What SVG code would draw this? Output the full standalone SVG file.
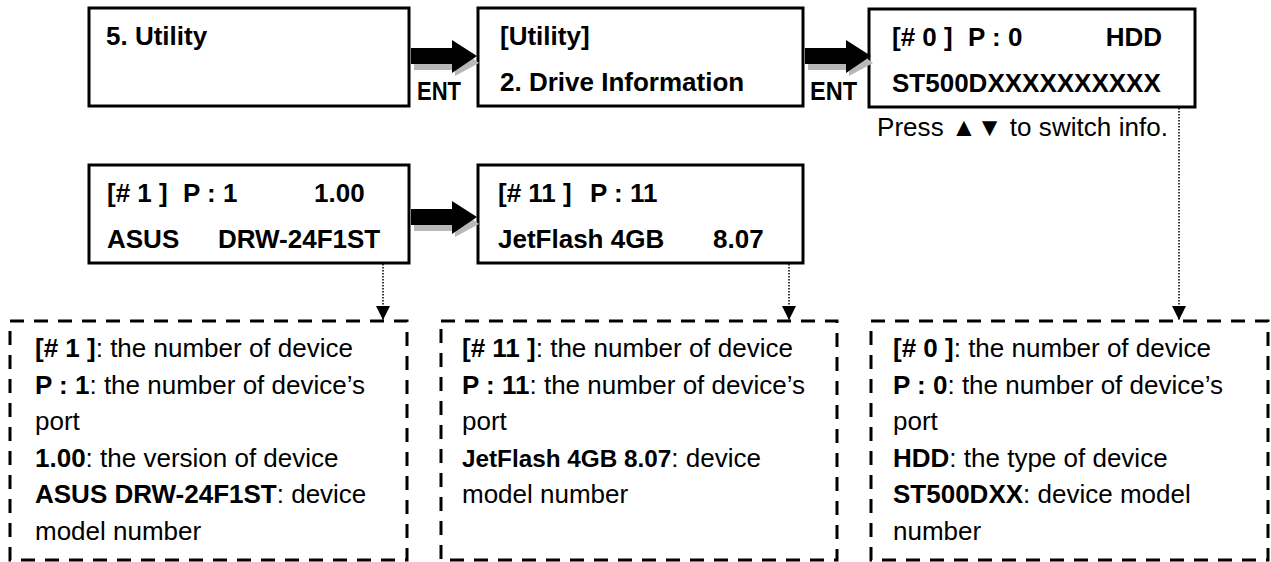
<svg xmlns="http://www.w3.org/2000/svg" width="1271" height="562" viewBox="0 0 1271 562">
<style>
  .box{fill:#fff;stroke:#000;stroke-width:3}
  .dbox{fill:none;stroke:#000;stroke-width:3;stroke-dasharray:14 10}
  .lcd{font-family:"Liberation Sans",Arial,sans-serif;font-weight:bold;font-size:26px;fill:#000}
  .desc{font-family:"Liberation Sans",Arial,sans-serif;font-size:26px;fill:#000}
  .b{font-weight:bold}
  .ent{font-family:"Liberation Sans",Arial,sans-serif;font-weight:bold;font-size:25px;fill:#000}
  .dot{fill:none;stroke:#000;stroke-width:1.5;stroke-dasharray:1.5 1.5}
  .arw{fill:#000}
  .shd{fill:#b8b8b8}
</style>
<defs>
  <marker id="tri" markerWidth="14" markerHeight="14" refX="14" refY="7" orient="auto" markerUnits="userSpaceOnUse">
    <path d="M0,0 L14,7 L0,14 Z" fill="#000"/>
  </marker>
  <g id="bigarrow">
    <path class="shd" d="M3,-3 L44,-3 L44,-11 L68,7 L44,20 L44,14 L3,14 Z"/>
    <path class="arw" d="M0,-8 L41,-8 L41,-16 L66,0 L41,17 L41,8 L0,8 Z"/>
  </g>
</defs>

<g id="node-utility">
  <rect class="box" x="89" y="8" width="320" height="98"/>
  <text class="lcd" x="106" y="45">5. Utility</text>
</g>

<g id="node-drive-info">
  <rect class="box" x="478" y="8" width="325" height="98"/>
  <text class="lcd" x="500" y="45">[Utility]</text>
  <text class="lcd" x="500" y="91">2. Drive Information</text>
</g>

<g id="node-dev0">
  <rect class="box" x="869" y="9" width="326" height="98"/>
  <text class="lcd" x="892" y="46">[# 0 ]</text>
  <text class="lcd" x="968" y="46">P : 0</text>
  <text class="lcd" x="1162" y="46" text-anchor="end">HDD</text>
  <text class="lcd" x="892" y="92">ST500DXXXXXXXXXX</text>
  <text class="desc" x="877" y="136" font-size="25" textLength="291" lengthAdjust="spacing">Press ▲▼ to switch info.</text>
</g>

<g id="node-dev1">
  <rect class="box" x="89" y="165" width="320" height="98"/>
  <text class="lcd" x="107" y="202">[# 1 ]</text>
  <text class="lcd" x="183" y="202">P : 1</text>
  <text class="lcd" x="314" y="202">1.00</text>
  <text class="lcd" x="107" y="248">ASUS</text>
  <text class="lcd" x="218" y="248">DRW-24F1ST</text>
</g>

<g id="node-dev11">
  <rect class="box" x="478" y="165" width="325" height="98"/>
  <text class="lcd" x="498" y="202">[# 11 ]</text>
  <text class="lcd" x="590" y="202">P : 11</text>
  <text class="lcd" x="498" y="248">JetFlash 4GB</text>
  <text class="lcd" x="713" y="248">8.07</text>
</g>

<g id="note-dev1">
  <rect class="dbox" x="10" y="321" width="397" height="239"/>
  <text class="desc" x="35" y="357"><tspan class="b">[# 1 ]</tspan>: the number of device</text>
  <text class="desc" x="35" y="394"><tspan class="b">P : 1</tspan>: the number of device’s</text>
  <text class="desc" x="35" y="430">port</text>
  <text class="desc" x="35" y="467"><tspan class="b">1.00</tspan>: the version of device</text>
  <text class="desc" x="35" y="503"><tspan class="b">ASUS DRW-24F1ST</tspan>: device</text>
  <text class="desc" x="35" y="540">model number</text>
</g>

<g id="note-dev11">
  <rect class="dbox" x="441" y="321" width="396" height="239"/>
  <text class="desc" x="462" y="357"><tspan class="b">[# 11 ]</tspan>: the number of device</text>
  <text class="desc" x="462" y="394"><tspan class="b">P : 11</tspan>: the number of device’s</text>
  <text class="desc" x="462" y="430">port</text>
  <text class="desc" x="462" y="467"><tspan class="b" font-size="24.3">JetFlash 4GB 8.07</tspan>: device</text>
  <text class="desc" x="462" y="503">model number</text>
</g>

<g id="note-dev0">
  <rect class="dbox" x="871" y="321" width="397" height="239"/>
  <text class="desc" x="893" y="357"><tspan class="b">[# 0 ]</tspan>: the number of device</text>
  <text class="desc" x="893" y="394"><tspan class="b">P : 0</tspan>: the number of device’s</text>
  <text class="desc" x="893" y="430">port</text>
  <text class="desc" x="893" y="467"><tspan class="b">HDD</tspan>: the type of device</text>
  <text class="desc" x="893" y="503"><tspan class="b">ST500DXX</tspan>: device model</text>
  <text class="desc" x="893" y="540">number</text>
</g>

<g id="connectors">
  <use href="#bigarrow" x="411" y="56"/>
  <text class="ent" x="417" y="100" textLength="44" lengthAdjust="spacingAndGlyphs">ENT</text>
  <use href="#bigarrow" x="805" y="56"/>
  <text class="ent" x="810" y="100" textLength="47" lengthAdjust="spacingAndGlyphs">ENT</text>
  <use href="#bigarrow" x="411" y="217"/>
  <path class="dot" d="M383,264 L383,320" marker-end="url(#tri)"/>
  <path class="dot" d="M789,264 L789,320" marker-end="url(#tri)"/>
  <path class="dot" d="M1179,108 L1179,320" marker-end="url(#tri)"/>
</g>
</svg>
